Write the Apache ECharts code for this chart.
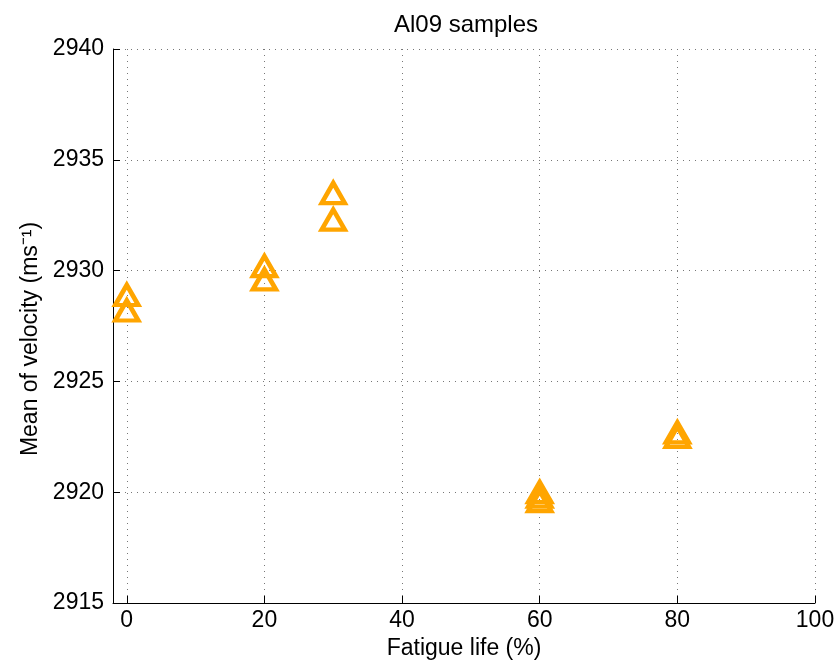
<!DOCTYPE html>
<html>
<head>
<meta charset="utf-8">
<script src="https://cdn.jsdelivr.net/npm/echarts@6/dist/echarts.min.js"></script>
<style>html,body{margin:0;padding:0;background:#fff}#c{width:839px;height:668px}</style>
</head>
<body>
<div id="c"></div>
<script>
const titleText = 'Al09 samples';
const xName = 'Fatigue life (%)';
const yName = 'Mean of velocity (ms\u207B\u00B9)';
const xTicks = [0, 20, 40, 60, 80, 100];
const yTicks = [2915, 2920, 2925, 2930, 2935, 2940];
const fatigue = [0, 0, 20, 20, 30, 30, 60, 60, 60, 80, 80];
const velocity = [2928.9, 2928.2, 2930.2, 2929.6, 2933.5, 2932.3, 2920.0, 2919.8, 2919.6, 2922.7, 2922.5];

const points = fatigue.map((x, i) => [x, velocity[i]]);
const font = '"Liberation Sans", Arial, Helvetica, sans-serif';
const chart = echarts.init(document.getElementById('c'));
chart.setOption({
  animation: false,
  backgroundColor: '#fff',
  title: {text: titleText, left: 461, top: 8, textAlign: 'center',
    textStyle: {fontFamily: font, fontSize: 24, fontWeight: 'normal', color: '#000'}},
  grid: {left: 113, right: 24, top: 49, bottom: 65, containLabel: false},
  xAxis: {
    type: 'value', min: -2, max: 100,
    name: xName, nameLocation: 'middle', nameGap: 32,
    nameTextStyle: {fontFamily: font, fontSize: 23, color: '#000'},
    axisLine: {show: true, onZero: false, lineStyle: {color: '#000', width: 1}},
    axisTick: {show: true, inside: true, length: 7, customValues: xTicks, lineStyle: {color: '#000'}},
    axisLabel: {customValues: xTicks, fontFamily: font, fontSize: 23, color: '#000', margin: 6},
    splitLine: {show: true, customValues: xTicks, lineStyle: {type: [1, 5], color: '#777'}}
  },
  yAxis: {
    type: 'value', min: 2915, max: 2940, interval: 5,
    name: yName, nameLocation: 'middle', nameGap: 68, nameRotate: 90,
    nameTextStyle: {fontFamily: font, fontSize: 23, color: '#000', padding: [0, 26, 0, 0]},
    axisLine: {show: true, onZero: false, lineStyle: {color: '#000', width: 1}},
    axisTick: {show: true, inside: true, length: 7, lineStyle: {color: '#000'}},
    axisLabel: {fontFamily: font, fontSize: 23, color: '#000', margin: 9,
      formatter: v => String(v)},
    splitLine: {show: true, lineStyle: {type: [1, 5], color: '#777'}}
  },
  series: [{
    type: 'scatter',
    data: points,
    symbol: 'triangle',
    symbolSize: [23, 20],
    itemStyle: {color: 'rgba(0,0,0,0)', borderColor: '#FFA500', borderWidth: 4.5, opacity: 1},
    emphasis: {disabled: true}
  }]
});
</script>
</body>
</html>
